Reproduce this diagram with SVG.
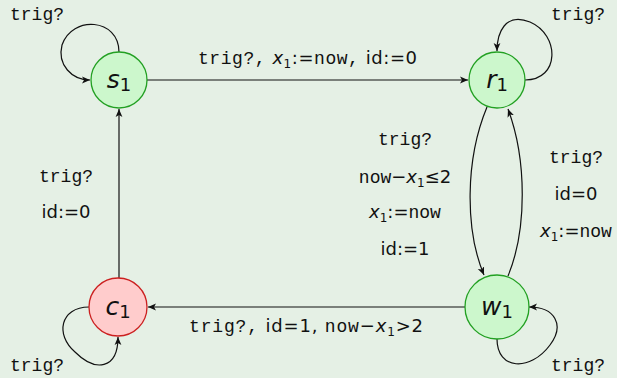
<svg xmlns="http://www.w3.org/2000/svg" width="617" height="378" viewBox="0 0 617 378">
  <defs>
    <marker id="arr" markerWidth="10" markerHeight="8" refX="8" refY="4" orient="auto" markerUnits="userSpaceOnUse">
      <path d="M0,0.6 L8,4 L0,7.4 L2,4 Z" fill="#111"/>
    </marker>
    <style>
      .bg { fill: #e5f0e5; }
      .ok { fill: #ccf7cc; stroke: #22a022; stroke-width: 1.3; }
      .bad { fill: #ffcccc; stroke: #cc2020; stroke-width: 1.3; }
      .edge { fill: none; stroke: #111; stroke-width: 1.2; marker-end: url(#arr); }
      .nl { font-family: "DejaVu Sans", "Liberation Sans", sans-serif; font-style: italic; font-size: 25px; fill: #111; text-anchor: middle; }
      .nl .sub { font-style: normal; font-size: 18px; }
      .lb { font-family: "DejaVu Sans", "Liberation Sans", sans-serif; font-size: 18px; fill: #111; text-anchor: middle; }
      tspan.tt { font-family: "Liberation Mono", "DejaVu Sans Mono", monospace; font-size: 18px; }
      .it { font-style: italic; }
      .sb { font-size: 12px; }
    </style>
  </defs>

  <rect class="bg" x="0" y="0" width="617" height="378"/>

  <!-- transitions -->
  <g id="edges">
    <path class="edge" d="M147,80 L468,80"/>
    <path class="edge" d="M119,278 L119,109"/>
    <path class="edge" d="M465,307 L148,307"/>
    <path class="edge" d="M487,107 C465,160 465,230 484,275"/>
    <path class="edge" d="M508,276 C527,230 527,160 508,109"/>
    <path class="edge" d="M119,52 C119,18 72,15 62,45 C57,65 72,80 90,80"/>
    <path class="edge" d="M525,80 C560,80 560,35 530,22 C505,12 497,33 497,51"/>
    <path class="edge" d="M89,307 C60,307 55,335 75,352 C95,372 118,370 118,337"/>
    <path class="edge" d="M497,339 C497,370 530,372 550,345 C565,325 555,307 529,307"/>
  </g>

  <!-- edge labels -->
  <g id="labels">
    <text class="lb" x="307.5" y="64" textLength="219" lengthAdjust="spacing"><tspan class="tt">trig?,</tspan> <tspan class="it">x</tspan><tspan class="sb" dy="4">1</tspan><tspan dy="-4">:=</tspan><tspan class="tt">now,</tspan> id:=0</text>
    <text class="lb" x="66" y="182"><tspan class="tt">trig?</tspan></text>
    <text class="lb" x="66" y="218">id:=0</text>
    <text class="lb" x="405" y="145"><tspan class="tt">trig?</tspan></text>
    <text class="lb" x="405" y="183"><tspan class="tt">now</tspan>−<tspan class="it">x</tspan><tspan class="sb" dy="4">1</tspan><tspan dy="-4">≤2</tspan></text>
    <text class="lb" x="405" y="218"><tspan class="it">x</tspan><tspan class="sb" dy="4">1</tspan><tspan dy="-4">:=</tspan><tspan class="tt">now</tspan></text>
    <text class="lb" x="405" y="255">id:=1</text>
    <text class="lb" x="576" y="163"><tspan class="tt">trig?</tspan></text>
    <text class="lb" x="576" y="200">id=0</text>
    <text class="lb" x="576" y="237"><tspan class="it">x</tspan><tspan class="sb" dy="4">1</tspan><tspan dy="-4">:=</tspan><tspan class="tt">now</tspan></text>
    <text class="lb" x="306" y="332" textLength="234" lengthAdjust="spacing"><tspan class="tt">trig?,</tspan> id=1, <tspan class="tt">now</tspan>−<tspan class="it">x</tspan><tspan class="sb" dy="4">1</tspan><tspan dy="-4">&gt;2</tspan></text>
    <text class="lb" x="37" y="20"><tspan class="tt">trig?</tspan></text>
    <text class="lb" x="578" y="20"><tspan class="tt">trig?</tspan></text>
    <text class="lb" x="37" y="371"><tspan class="tt">trig?</tspan></text>
    <text class="lb" x="578" y="371"><tspan class="tt">trig?</tspan></text>
  </g>

  <!-- locations -->
  <g id="s1">
    <circle class="ok" cx="119" cy="80" r="28"/>
    <text class="nl" x="119" y="88">s<tspan class="sub" dy="3">1</tspan></text>
  </g>
  <g id="r1">
    <circle class="ok" cx="497" cy="80" r="28"/>
    <text class="nl" x="497" y="88">r<tspan class="sub" dy="3">1</tspan></text>
  </g>
  <g id="c1">
    <circle class="bad" cx="118" cy="307" r="29"/>
    <text class="nl" x="118" y="315">c<tspan class="sub" dy="3">1</tspan></text>
  </g>
  <g id="w1">
    <circle class="ok" cx="497" cy="307" r="32"/>
    <text class="nl" x="497" y="315">w<tspan class="sub" dy="3">1</tspan></text>
  </g>
</svg>
